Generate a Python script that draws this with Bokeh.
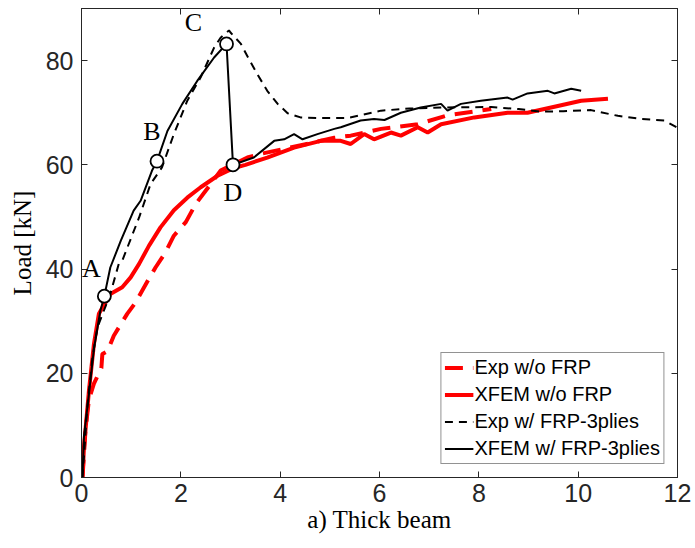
from bokeh.plotting import figure
from bokeh.models import Range1d, LinearAxis, FixedTicker, Label
from bokeh.embed import file_html
from bokeh.resources import INLINE

# ---- data ----
exp_wo_x = [0.02, 0.08, 0.15, 0.25, 0.40, 0.42, 0.52, 0.65, 0.92, 1.09, 1.32, 1.49, 1.69, 1.86,
            2.10, 2.30, 2.53, 2.80, 3.34, 3.61, 4.68, 5.09, 5.42, 6.03, 6.77, 7.37, 8.25]
exp_wo_y = [0.0, 9.0, 15.0, 18.0, 21.0, 23.7, 24.2, 27.2, 31.4, 33.6, 37.5, 40.3, 43.2, 46.4,
            49.0, 52.5, 55.4, 58.9, 61.4, 62.1, 64.3, 65.2, 65.6, 66.9, 67.8, 69.5, 70.7]

xfem_wo_x = [0.02, 0.05, 0.15, 0.25, 0.35, 0.58, 0.82, 0.99, 1.16, 1.36, 1.59, 1.86, 2.13, 2.40,
             2.74, 3.07, 3.30, 3.74, 4.28, 4.82, 5.22, 5.42, 5.69, 5.89, 6.23, 6.43, 6.77, 6.97,
             7.24, 7.91, 8.58, 8.98, 9.59, 10.06, 10.60]
xfem_wo_y = [0.0, 5.8, 16.7, 25.6, 31.4, 35.2, 36.5, 38.4, 41.0, 44.5, 48.0, 51.3, 53.7, 55.7,
             57.9, 59.4, 60.0, 61.4, 63.3, 64.6, 64.6, 64.0, 65.9, 64.9, 66.2, 65.6, 67.2, 66.2,
             67.8, 69.1, 70.0, 70.0, 71.3, 72.3, 72.7]

exp_w_x = [0.02, 0.12, 0.22, 0.32, 0.45, 0.58, 0.75, 0.82, 1.16, 1.39, 1.62, 1.86, 2.13, 2.40,
           2.67, 2.80, 2.97, 3.00, 3.21, 3.37, 3.54, 3.74, 3.95, 4.15, 4.41, 4.75, 5.36, 6.03,
           6.60, 7.24, 8.25, 8.80, 9.25, 9.70, 10.26, 10.80, 11.27, 11.74, 11.98]
exp_w_y = [0.0, 14.0, 23.0, 28.8, 32.0, 35.2, 41.0, 41.6, 49.9, 56.3, 59.5, 65.9, 72.3, 76.8,
           82.5, 84.4, 85.8, 85.4, 83.2, 80.3, 77.4, 74.2, 71.7, 69.9, 69.1, 69.0, 69.0, 70.4,
           70.8, 71.0, 71.1, 70.7, 70.2, 70.3, 70.5, 69.4, 68.8, 68.5, 67.2]

xfem_w_x = [0.02, 0.05, 0.15, 0.25, 0.38, 0.46, 0.58, 0.79, 1.05, 1.19, 1.42, 1.52, 1.73, 2.03,
            2.33, 2.67, 2.92, 3.05, 3.47, 3.88, 4.08, 4.28, 4.45, 4.75, 5.09, 5.22, 5.62, 5.89,
            6.10, 6.43, 6.83, 7.24, 7.37, 7.64, 8.04, 8.58, 8.68, 8.98, 9.39, 9.52, 9.86, 10.06]
xfem_w_y = [0.0, 8.0, 16.0, 24.7, 32.0, 34.8, 40.3, 45.4, 51.2, 53.1, 58.9, 60.7, 66.5, 71.7,
            76.1, 80.6, 83.2, 60.0, 61.4, 64.6, 64.9, 65.9, 64.9, 65.9, 66.9, 67.2, 68.5, 68.8,
            68.6, 70.0, 71.0, 71.7, 70.4, 71.7, 72.3, 72.9, 72.5, 73.7, 74.2, 73.7, 74.6, 74.2]

point_x = [0.46, 1.52, 2.92, 3.05]
point_y = [34.8, 60.7, 83.2, 60.0]
point_labels = ["A", "B", "C", "D"]

x_ticks = [0, 2, 4, 6, 8, 10, 12]
y_ticks = [0, 20, 40, 60, 80]

x_label = "a) Thick beam"
y_label = "Load [kN]"

# ---- figure ----
p = figure(frame_width=596, frame_height=469,
           min_border_left=81, min_border_right=18, min_border_top=8, min_border_bottom=71,
           x_range=Range1d(0, 12), y_range=Range1d(0, 90),
           output_backend="svg", toolbar_location=None)
p.background_fill_color = "white"
p.border_fill_color = "white"
p.grid.visible = False
p.outline_line_color = "#262626"
p.outline_line_width = 1

SANS = "Liberation Sans"
SERIF = "Liberation Serif"
AX = "#262626"

for ax, ticks in ((p.xaxis[0], x_ticks), (p.yaxis[0], y_ticks)):
    ax.ticker = FixedTicker(ticks=ticks)
    ax.major_tick_in = 6
    ax.major_tick_out = 0
    ax.minor_tick_line_color = None
    ax.axis_line_color = AX
    ax.major_tick_line_color = AX
    ax.major_label_text_font = SANS
    ax.major_label_text_font_size = "25px"
    ax.major_label_text_color = AX
    ax.axis_label_text_font = SERIF
    ax.axis_label_text_font_size = "25px"
    ax.axis_label_text_font_style = "normal"
    ax.axis_label_text_color = "black"

p.xaxis[0].axis_label = x_label
p.yaxis[0].axis_label = y_label
p.xaxis[0].major_label_standoff = 6
p.xaxis[0].axis_label_standoff = 1
p.yaxis[0].major_label_standoff = 8
p.yaxis[0].axis_label_standoff = 7

top = LinearAxis(ticker=FixedTicker(ticks=x_ticks))
right = LinearAxis(ticker=FixedTicker(ticks=y_ticks))
for ax in (top, right):
    ax.major_tick_in = 6
    ax.major_tick_out = 0
    ax.minor_tick_line_color = None
    ax.axis_line_color = AX
    ax.major_tick_line_color = AX
    ax.major_label_text_font_size = "1px"
    ax.major_label_text_color = None
    ax.major_label_standoff = 0
p.add_layout(top, "above")
p.add_layout(right, "right")

# ---- curves ----
p.line(exp_wo_x, exp_wo_y, line_color="red", line_width=4, line_dash="18 10",
       legend_label="Exp w/o FRP")
p.line(xfem_wo_x, xfem_wo_y, line_color="red", line_width=4,
       legend_label="XFEM w/o FRP")
p.line(exp_w_x, exp_w_y, line_color="black", line_width=2, line_dash="8 6",
       legend_label="Exp w/ FRP-3plies")
p.line(xfem_w_x, xfem_w_y, line_color="black", line_width=2,
       legend_label="XFEM w/ FRP-3plies")

p.scatter(point_x, point_y, size=13, marker="circle", fill_color="white",
          line_color="black", line_width=1.8)

offsets = {"A": (-13, 28), "B": (-5, 30), "C": (-33, 21), "D": (0, -28)}
for px, py, lab in zip(point_x, point_y, point_labels):
    dx, dy = offsets[lab]
    p.add_layout(Label(x=px, y=py, text=lab, x_offset=dx, y_offset=dy,
                       text_align="center", text_baseline="middle",
                       text_font=SERIF, text_font_size="26px", text_color="black"))

# ---- legend ----
lg = p.legend[0]
lg.location = "bottom_right"
lg.margin = 13
lg.padding = 3
lg.spacing = 4
lg.glyph_width = 29
lg.glyph_height = 21
lg.label_height = 21
lg.label_standoff = 1
lg.label_text_font = SANS
lg.label_text_font_size = "20px"
lg.label_text_color = "black"
lg.border_line_color = "#262626"
lg.border_line_width = 1
lg.background_fill_color = "white"
lg.background_fill_alpha = 1

open("out.html", "w").write(file_html(p, INLINE))
